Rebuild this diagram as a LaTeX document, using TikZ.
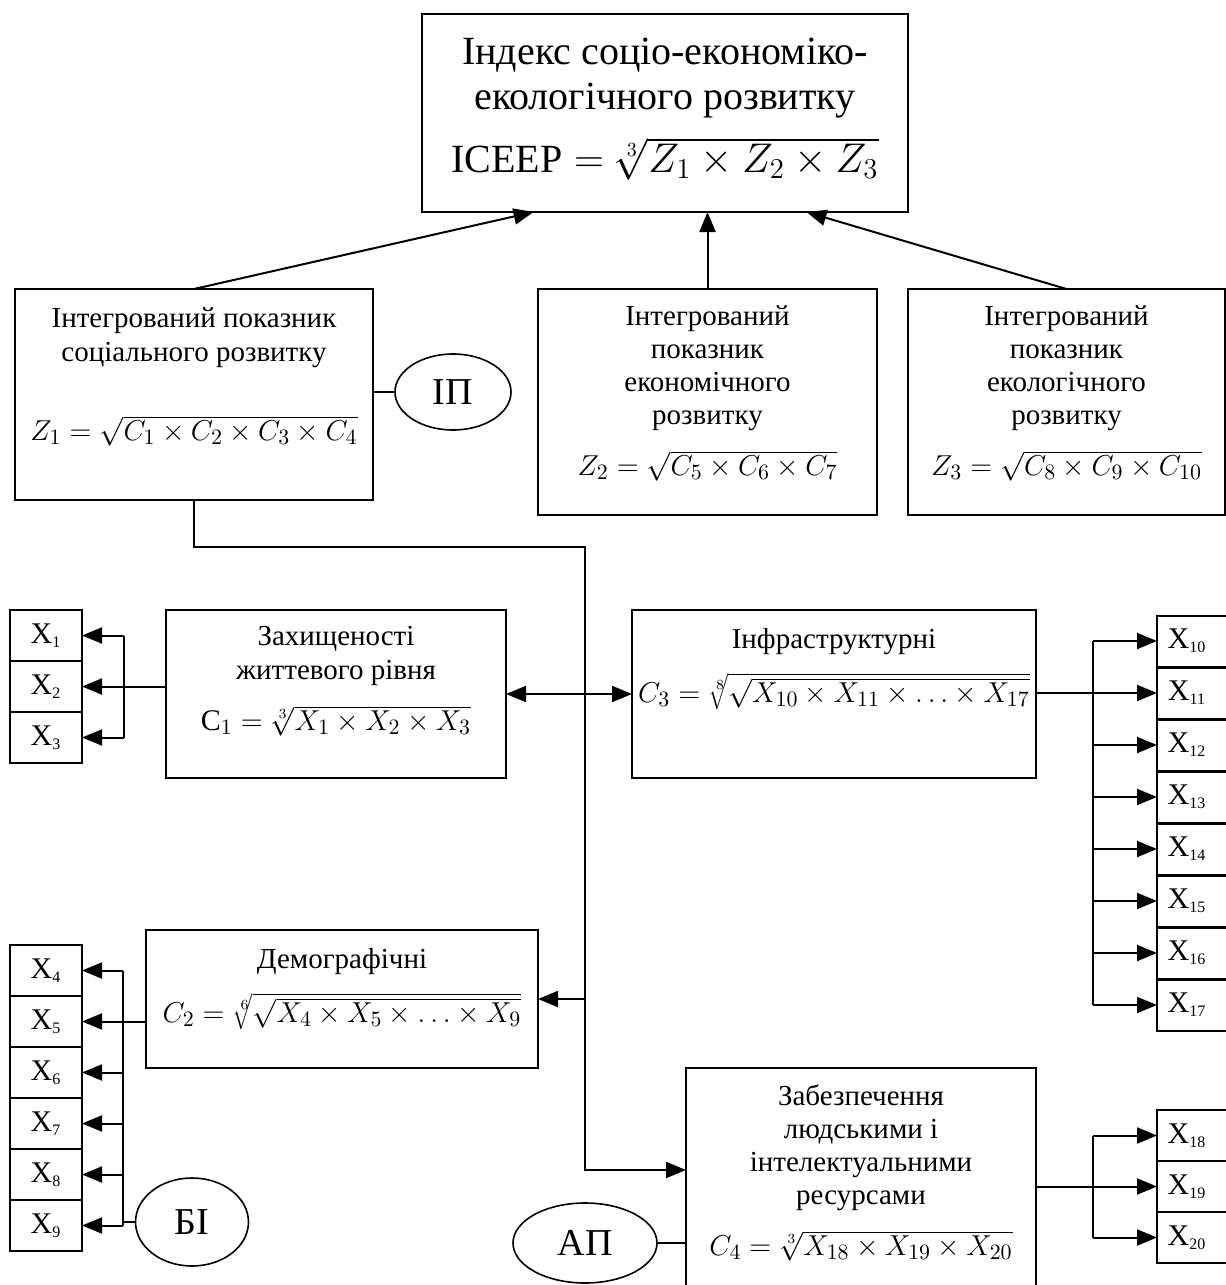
\documentclass[tikz,border=0pt]{standalone}
\usepackage{fontspec}
\setmainfont{Liberation Serif}
\usetikzlibrary{arrows.meta,shapes.geometric}
\newcommand{\xsub}[1]{\textsubscript{\fontsize{8}{9}\selectfont#1}}

\begin{document}
\begin{tikzpicture}[x=0.5pt,y=-0.5pt,
  box/.style 2 args={draw,line width=1pt,inner sep=0pt,outer sep=0pt,
    minimum width=#1*0.5pt,minimum height=#2*0.5pt},
  oval/.style 2 args={ellipse,draw,line width=0.8pt,inner sep=0pt,
    minimum width=#1*0.5pt,minimum height=#2*0.5pt,font=\fontsize{19}{22}\selectfont},
  xbox/.style={box={#1}{51},font=\fontsize{15}{18}\selectfont},
  xbox/.default=72,
  txt/.style={anchor=north,inner sep=0pt,align=center,font=\fontsize{14.5}{17}\selectfont},
  fml/.style={anchor=base,inner sep=0pt,font=\fontsize{15}{18}\selectfont},
  conn/.style={line width=1pt},
  arr/.style={line width=1pt,-{Triangle[length=10pt,width=8pt]}}]
\useasboundingbox (0,0) rectangle (1226,1285);
\clip (0,0) rectangle (1226,1285);
  % index and integrated indicators
  \node[box={486}{198}] (top) at (665,113) {};
  \node[txt,font=\fontsize{20}{22.5}\selectfont] (topt) at (665,38) {Індекс соціо-економіко-\\екологічного розвитку};
  \node[fml,font=\fontsize{20}{22}\selectfont] (topf) at (665,172) {ICEEP${}=\sqrt[3]{Z_1\times Z_2\times Z_3}$};
  \node[box={358}{211}] (z1) at (194,394.5) {};
  \node[txt] (z1t) at (194,307) {Інтегрований показник\\соціального розвитку};
  \node[fml] (z1f) at (194,440) {$Z_1=\sqrt{C_1\times C_2\times C_3\times C_4}$};
  \node[box={339}{226}] (z2) at (707.5,402) {};
  \node[txt,font=\fontsize{14.5}{16.5}\selectfont] (z2t) at (707.5,305) {Інтегрований\\показник\\економічного\\розвитку};
  \node[fml] (z2f) at (707.5,475) {$Z_2=\sqrt{C_5\times C_6\times C_7}$};
  \node[box={317}{226}] (z3) at (1066.5,402) {};
  \node[txt,font=\fontsize{14.5}{16.5}\selectfont] (z3t) at (1066.5,305) {Інтегрований\\показник\\екологічного\\розвитку};
  \node[fml] (z3f) at (1066.5,475) {$Z_3=\sqrt{C_8\times C_9\times C_{10}}$};
  \node[oval={116}{76}] (ip) at (453,392) {ІП};
  % components
  \node[box={340}{168}] (c1) at (336,694) {};
  \node[txt] (c1t) at (336,626) {Захищеності\\життевого рівня};
  \node[fml] (c1f) at (336,730) {$\mathrm{C}_1=\sqrt[3]{X_1\times X_2\times X_3}$};
  \node[box={404}{168}] (c3) at (834,694) {};
  \node[txt] (c3t) at (834,628) {Інфраструктурні};
  \node[fml] (c3f) at (834,702) {$C_3=\sqrt[8]{\sqrt{X_{10}\times X_{11}\times\ldots\times X_{17}}}$};
  \node[box={392}{138}] (c2) at (342,999) {};
  \node[txt] (c2t) at (342,948) {Демографічні};
  \node[fml] (c2f) at (342,1022) {$C_2=\sqrt[6]{\sqrt{X_4\times X_5\times\ldots\times X_9}}$};
  \node[box={350}{232}] (c4) at (861,1184) {};
  \node[txt,font=\fontsize{14.5}{16.5}\selectfont] (c4t) at (861,1084) {Забезпечення\\людськими і\\інтелектуальними\\ресурсами};
  \node[fml] (c4f) at (861,1255) {$C_4=\sqrt[3]{X_{18}\times X_{19}\times X_{20}}$};
  \node[oval={113}{88}] (bi) at (192,1222) {БІ};
  \node[oval={144}{80}] (ap) at (585,1243) {АП};
  % indicators
  \node[xbox] (x1) at (46,635.5) {X\xsub{1}};
  \node[xbox] (x2) at (46,686.5) {X\xsub{2}};
  \node[xbox] (x3) at (46,737.5) {X\xsub{3}};
  \node[xbox] (x4) at (46,970.5) {X\xsub{4}};
  \node[xbox] (x5) at (46,1021.5) {X\xsub{5}};
  \node[xbox] (x6) at (46,1072.5) {X\xsub{6}};
  \node[xbox] (x7) at (46,1123.5) {X\xsub{7}};
  \node[xbox] (x8) at (46,1174.5) {X\xsub{8}};
  \node[xbox] (x9) at (46,1225.5) {X\xsub{9}};
  \node[xbox=80] (x10) at (1197,641) {X\xsub{10}\hspace*{10pt}};
  \node[xbox=80] (x11) at (1197,693) {X\xsub{11}\hspace*{10pt}};
  \node[xbox=80] (x12) at (1197,745) {X\xsub{12}\hspace*{10pt}};
  \node[xbox=80] (x13) at (1197,797) {X\xsub{13}\hspace*{10pt}};
  \node[xbox=80] (x14) at (1197,849) {X\xsub{14}\hspace*{10pt}};
  \node[xbox=80] (x15) at (1197,901) {X\xsub{15}\hspace*{10pt}};
  \node[xbox=80] (x16) at (1197,953) {X\xsub{16}\hspace*{10pt}};
  \node[xbox=80] (x17) at (1197,1005) {X\xsub{17}\hspace*{10pt}};
  \node[xbox=80] (x18) at (1197,1135.5) {X\xsub{18}\hspace*{10pt}};
  \node[xbox=80] (x19) at (1197,1186.5) {X\xsub{19}\hspace*{10pt}};
  \node[xbox=80] (x20) at (1197,1237.5) {X\xsub{20}\hspace*{10pt}};
  \coordinate (bus) at (585,547);
  \coordinate (b1) at (124,0);
  \coordinate (b2) at (123,0);
  \coordinate (b3) at (1093,0);
  % links to the index
  \draw[arr] (z1.north) -- (top.217);
  \draw[arr] (z2.north) -- (z2.north |- top.south);
  \draw[arr] (z3.north) -- (top.-35);
  \draw[conn] (z1.east |- ip) -- (ip);
  % bus from Z1
  \draw[arr] (z1.south) |- (bus) |- ([yshift=7pt]c4.west);
  \draw[arr] (bus |- c1) -- (c1);
  \draw[arr] (bus |- c3) -- (c3);
  \draw[arr] (bus |- c2) -- (c2);
  \draw[conn] (ap) -- (ap -| c4.west);
  % C1
  \draw[arr] (c1.west |- x2) -- (x2);
  \draw[conn] (b1 |- x1) -- (b1 |- x3);
  \draw[arr] (b1 |- x1) -- (x1);
  \draw[arr] (b1 |- x3) -- (x3);
  % C2
  \draw[arr] (c2.west |- x5) -- (x5);
  \draw[conn] (b2 |- x4) -- (b2 |- x9);
  \draw[arr] (b2 |- x4) -- (x4);
  \draw[arr] (b2 |- x6) -- (x6);
  \draw[arr] (b2 |- x7) -- (x7);
  \draw[arr] (b2 |- x8) -- (x8);
  \draw[arr] (b2 |- x9) -- (x9);
  \draw[conn] (bi) -- (b2 |- bi);
  % C3
  \draw[arr] (c3.east |- x11) -- (x11);
  \draw[conn] (b3 |- x10) -- (b3 |- x17);
  \draw[arr] (b3 |- x10) -- (x10);
  \draw[arr] (b3 |- x12) -- (x12);
  \draw[arr] (b3 |- x13) -- (x13);
  \draw[arr] (b3 |- x14) -- (x14);
  \draw[arr] (b3 |- x15) -- (x15);
  \draw[arr] (b3 |- x16) -- (x16);
  \draw[arr] (b3 |- x17) -- (x17);
  % C4
  \draw[arr] (c4.east |- x19) -- (x19);
  \draw[conn] (b3 |- x18) -- (b3 |- x20);
  \draw[arr] (b3 |- x18) -- (x18);
  \draw[arr] (b3 |- x20) -- (x20);
\end{tikzpicture}
\end{document}
